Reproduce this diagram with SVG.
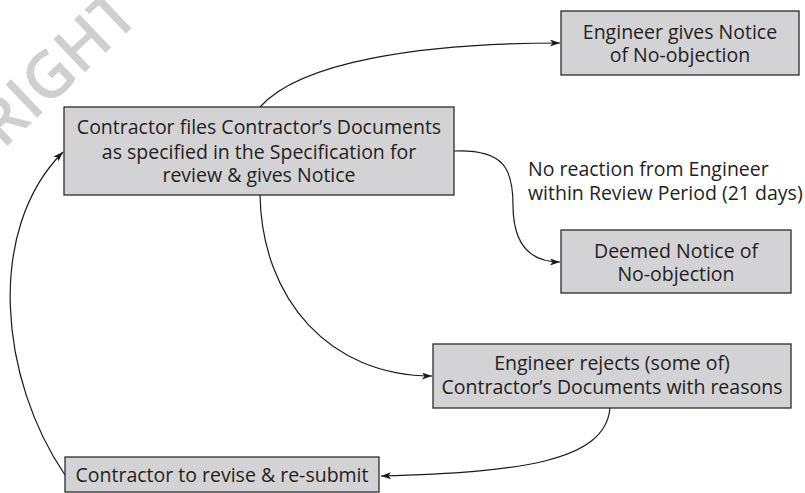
<svg xmlns="http://www.w3.org/2000/svg" width="805" height="493" viewBox="0 0 805 493">
<style>
  .box { fill: #d3d3d5; stroke: #2b2b2b; stroke-width: 1.3; }
  .t { font-family: "Open Sans", "Noto Sans", sans-serif; font-size: 19.5px; fill: #231f20; text-anchor: middle; }
  .lbl { font-family: "Open Sans", "Noto Sans", sans-serif; font-size: 19.5px; fill: #231f20; }
  .wm { font-family: "Open Sans", "Noto Sans", sans-serif; font-size: 64px; font-weight: 600; fill: #cfcfcf; }
  .edge { fill: none; stroke: #1a1a1a; stroke-width: 1.2; marker-end: url(#arr); }
</style>
<defs>
  <marker id="arr" markerUnits="userSpaceOnUse" markerWidth="11" markerHeight="8" refX="10" refY="3.5" orient="auto">
    <path d="M0,0 L10,3.5 L0,7 L2.5,3.5 z" fill="#1a1a1a"/>
  </marker>
</defs>
<rect width="805" height="493" fill="#ffffff"/>
<text class="wm" transform="translate(3,150) rotate(-43.5)">RIGHT</text>

<g id="connectors">
  <path class="edge" d="M260,107 C300,62 420,43 560,43"/>
  <path class="edge" d="M454,151 C505,149 513,170 513,205 C513,245 530,262 560,262"/>
  <path class="edge" d="M260,195 C262,300 330,376 432,376"/>
  <path class="edge" d="M610,408 C605,462 520,472 381,476"/>
  <path class="edge" d="M65,475 C0,380 -15,230 63,152"/>
</g>

<g id="node-notice">
  <rect class="box" x="561" y="11" width="238" height="64"/>
  <text class="t" x="680" y="39">Engineer gives Notice</text>
  <text class="t" x="680" y="62">of No-objection</text>
</g>

<g id="node-contractor-files">
  <rect class="box" x="64" y="107" width="390" height="88"/>
  <text class="t" x="259" y="134">Contractor files Contractor’s Documents</text>
  <text class="t" x="259" y="159">as specified in the Specification for</text>
  <text class="t" x="259" y="182">review &amp; gives Notice</text>
</g>

<g id="label-no-reaction">
  <text class="lbl" x="528" y="176">No reaction from Engineer</text>
  <text class="lbl" x="528" y="200">within Review Period (21 days)</text>
</g>

<g id="node-deemed">
  <rect class="box" x="561" y="230" width="230" height="63"/>
  <text class="t" x="676" y="258">Deemed Notice of</text>
  <text class="t" x="676" y="281">No-objection</text>
</g>

<g id="node-rejects">
  <rect class="box" x="433" y="344" width="358" height="64"/>
  <text class="t" x="612" y="370">Engineer rejects (some of)</text>
  <text class="t" x="612" y="394">Contractor’s Documents with reasons</text>
</g>

<g id="node-revise">
  <rect class="box" x="65" y="457" width="314" height="35"/>
  <text class="t" x="222" y="482">Contractor to revise &amp; re-submit</text>
</g>
</svg>
